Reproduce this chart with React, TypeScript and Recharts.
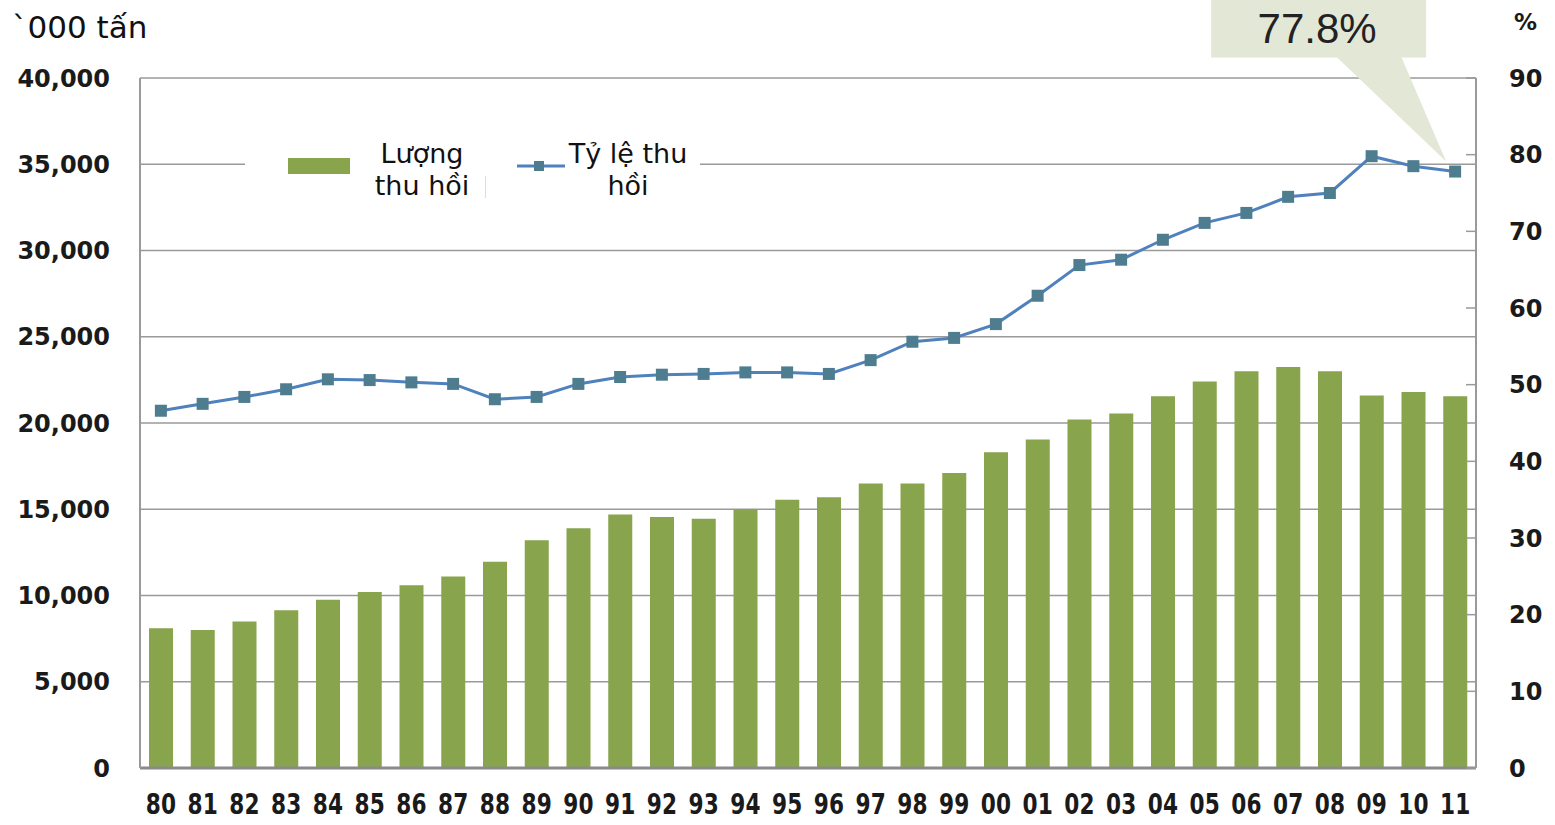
import React from 'react';
import {
  ComposedChart,
  Bar,
  Line,
  XAxis,
  YAxis,
  CartesianGrid,
  Legend,
  ReferenceDot,
} from 'recharts';

const years = [
  '80', '81', '82', '83', '84', '85', '86', '87', '88', '89', '90', '91', '92', '93', '94', '95',
  '96', '97', '98', '99', '00', '01', '02', '03', '04', '05', '06', '07', '08', '09', '10', '11',
];

// '000 tấn
const recovered = [
  8100, 8000, 8500, 9150, 9750, 10200, 10600, 11100, 11950, 13200, 13900, 14700, 14550, 14450, 15000, 15550,
  15700, 16500, 16500, 17100, 18300, 19050, 20200, 20550, 21550, 22400, 23000, 23250, 23000, 21600, 21800, 21550,
];

// %
const rate = [
  46.6, 47.5, 48.4, 49.4, 50.7, 50.6, 50.3, 50.1, 48.1, 48.4, 50.1, 51.0, 51.3, 51.4, 51.6, 51.6,
  51.4, 53.2, 55.6, 56.1, 57.9, 61.6, 65.6, 66.3, 68.9, 71.1, 72.4, 74.5, 75.0, 79.8, 78.5, 77.8,
];

const leftTicks = [0, 5000, 10000, 15000, 20000, 25000, 30000, 35000, 40000];
const rightTicks = [0, 10, 20, 30, 40, 50, 60, 70, 80, 90];

const data = years.map((y, i) => ({ year: y, amount: recovered[i], rate: rate[i] }));

const BAR_COLOR = '#88a44c';
const LINE_COLOR = '#4f81bd';
const DOT_COLOR = '#4e7d90';

const axisFont = { fontFamily: '"DejaVu Sans", Verdana, sans-serif', fontWeight: 700, fontSize: 24, fill: '#1a1a1a' };

function SquareDot(props: any) {
  const { cx, cy } = props;
  if (cx == null || cy == null) return null;
  return <rect x={cx - 6} y={cy - 6} width={12} height={12} fill={DOT_COLOR} />;
}

// narrow bold year labels
function YearTick(props: any) {
  const { x, y, payload } = props;
  return (
    <text
      transform={`translate(${x},${y}) scale(0.86,1)`}
      textAnchor="middle"
      dy="0.71em"
      fontFamily='"DejaVu Sans Condensed", "DejaVu Sans", sans-serif'
      fontWeight={700}
      fontSize={28}
      fill="#1a1a1a"
    >
      {payload.value}
    </text>
  );
}

function Callout(props: any) {
  const { cx, cy } = props;
  if (cx == null || cy == null) return null;
  const tx = cx - 9;
  const ty = cy - 10;
  return (
    <g>
      <rect x={tx - 235} y={0} width={215} height={ty - 104} fill="#e3e7d6" />
      <polygon points={`${tx - 110},${ty - 105} ${tx - 45},${ty - 105} ${tx},${ty}`} fill="#e3e7d6" />
      <text
        x={tx - 129}
        y={43}
        textAnchor="middle"
        fontFamily='"Liberation Sans", Arial, sans-serif'
        fontSize={42}
        fill="#222"
      >
        77.8%
      </text>
    </g>
  );
}

function LegendBox() {
  const txt: React.CSSProperties = {
    position: 'absolute',
    fontFamily: '"DejaVu Sans", Verdana, sans-serif',
    fontSize: 27,
    lineHeight: '32px',
    color: '#111',
    textAlign: 'center',
  };
  return (
    <div style={{ position: 'relative', width: 455, height: 72, background: '#fff' }}>
      <div style={{ position: 'absolute', left: 43, top: 22, width: 62, height: 16, background: BAR_COLOR }} />
      <div style={{ ...txt, left: 117, top: 2, width: 120 }}>
        Lượng
        <br />
        thu hồi
      </div>
      <div style={{ position: 'absolute', left: 240, top: 40, width: 1, height: 22, background: '#ddd' }} />
      <svg style={{ position: 'absolute', left: 272, top: 22 }} width={50} height={16}>
        <line x1={0} y1={8} x2={48} y2={8} stroke={LINE_COLOR} strokeWidth={3} />
        <rect x={17} y={3} width={10} height={10} fill={DOT_COLOR} />
      </svg>
      <div style={{ ...txt, left: 313, top: 2, width: 140 }}>
        Tỷ lệ thu
        <br />
        hồi
      </div>
    </div>
  );
}

export default function App() {
  return (
    <div style={{ position: 'absolute', left: 0, top: 0, width: 1555, height: 825, background: '#fff' }}>
      <div
        style={{
          position: 'absolute',
          left: 12,
          top: 9,
          fontFamily: '"DejaVu Sans", Verdana, sans-serif',
          fontSize: 31,
          color: '#111',
        }}
      >
        `000 tấn
      </div>
      <div
        style={{
          position: 'absolute',
          left: 1514,
          top: 9,
          fontFamily: '"DejaVu Sans", Verdana, sans-serif',
          fontWeight: 700,
          fontSize: 23,
          color: '#1a1a1a',
        }}
      >
        %
      </div>
      <ComposedChart
        width={1555}
        height={825}
        data={data}
        margin={{ top: 78, right: 0, bottom: 0, left: 0 }}
        style={{ position: 'absolute', left: 0, top: 0 }}
      >
        <CartesianGrid vertical={false} stroke="#9a9a9a" strokeWidth={1.5} yAxisId="left" />
        <XAxis
          dataKey="year"
          height={57}
          interval={0}
          tickLine={false}
          axisLine={{ stroke: '#8a8a8a', strokeWidth: 3 }}
          tickSize={6}
          tickMargin={20}
          tick={<YearTick />}
        />
        <YAxis
          yAxisId="left"
          orientation="left"
          width={140}
          domain={[0, 40000]}
          ticks={leftTicks}
          interval={0}
          tickFormatter={(v: number) => v.toLocaleString('en-US')}
          tickLine={false}
          axisLine={{ stroke: '#9a9a9a', strokeWidth: 2 }}
          tickSize={6}
          tickMargin={24}
          tick={axisFont}
        />
        <YAxis
          yAxisId="right"
          orientation="right"
          width={79}
          domain={[0, 90]}
          ticks={rightTicks}
          interval={0}
          tickLine={{ stroke: '#9a9a9a', strokeWidth: 1.5 }}
          axisLine={{ stroke: '#9a9a9a', strokeWidth: 2 }}
          tickSize={-10}
          tickMargin={43}
          tick={{ ...axisFont, textAnchor: 'start' }}
        />
        <Legend
          layout="horizontal"
          verticalAlign="middle"
          align="center"
          wrapperStyle={{ position: 'absolute', left: 245, top: 136, width: 455, height: 72 }}
          content={() => <LegendBox />}
        />
        <Bar
          yAxisId="left"
          dataKey="amount"
          name="Lượng thu hồi"
          fill={BAR_COLOR}
          barSize={24}
          isAnimationActive={false}
        />
        <Line
          yAxisId="right"
          dataKey="rate"
          name="Tỷ lệ thu hồi"
          stroke={LINE_COLOR}
          strokeWidth={3}
          dot={<SquareDot />}
          activeDot={false}
          isAnimationActive={false}
        />
        <ReferenceDot yAxisId="right" x="11" y={77.8} shape={<Callout />} ifOverflow="visible" />
      </ComposedChart>
    </div>
  );
}
